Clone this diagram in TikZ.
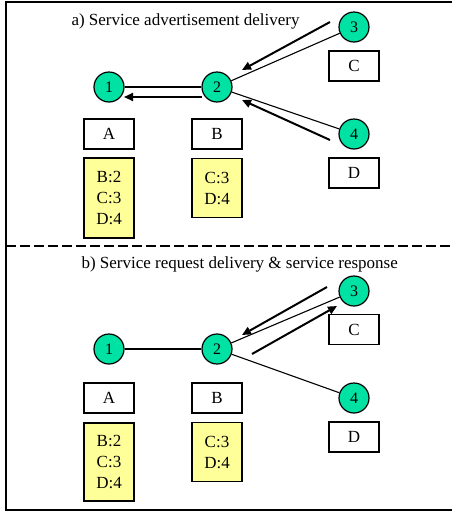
\documentclass[tikz,border=0pt]{standalone}
\usepackage{fontspec}
\setmainfont{Liberation Serif}
\usepackage{xcolor}
\usepackage{tikz}
\usetikzlibrary{positioning, arrows.meta}
\definecolor{mint}{RGB}{0,226,164}
\definecolor{memo}{RGB}{255,255,153}
\tikzset{
	>={Triangle[length=9pt,width=8pt]}, % bold filled arrow heads
	node distance=48pt, % distance between a station and its name box
	station/.style={circle, draw, line width=1.2pt, fill=mint, minimum size=30pt, inner sep=0pt, font=\fontsize{16}{18}\selectfont}, % the numbered circles
	namebox/.style={draw, line width=1.1pt, fill=white, minimum width=50pt, minimum height=30pt, inner sep=0pt}, % the letter boxes
	tablebox/.style={draw, line width=1.1pt, fill=memo, minimum width=50pt, align=center, inner sep=0pt}, % the yellow tables
	link/.style={-, line width=1.1pt}, % plain links
	msg/.style={->, line width=2pt}, % the messages
}

\begin{document}
\begin{tikzpicture}[x=1pt, y=1pt, on grid, font=\fontsize{17}{21}\selectfont]
				\useasboundingbox (0,0) rectangle (451,-512);
				% Frame
				\draw[line width=1.4pt] (6,-2) rectangle (470,-510);
				\draw[line width=1.3pt, dash pattern=on 9.5pt off 4.5pt] (6,-246) -- (451,-246);
				
				% a) Stations
				\node[anchor=base west] (ta) at (68,-25) {a) Service advertisement delivery};
				\node[station] (a1) at (109,-87) {1};
				\node[station] (a2) at (217,-87) {2};
				\node[station] (a3) at (354,-27) {3};
				\node[station] (a4) at (354,-134) {4};
				\node[namebox, below=47pt of a1] (aA) {A};
				\node[namebox, below=47pt of a2] (aB) {B};
				\node[namebox, below=39pt of a3] (aC) {C};
				\node[namebox, below=39pt of a4] (aD) {D};
				\node[tablebox, minimum height=80pt, below=64pt of aA] (atA) {B:2\\C:3\\D:4};
				\node[tablebox, minimum height=59pt, below=54pt of aB] (atB) {C:3\\D:4};
				
				% a) Links and messages
				\path[link]
				(a1) edge (a2)
				(a2) edge (a3)
				(a2) edge (a4);
				\coordinate (a21s) at (202,-97);
				\coordinate (a21e) at (124,-97);
				\coordinate (a32s) at (330,-22);
				\coordinate (a32e) at (242,-70);
				\coordinate (a42s) at (330,-140);
				\coordinate (a42e) at (242,-100);
				\draw[msg] (a21s) -- (a21e);
				\draw[msg] (a32s) -- (a32e);
				\draw[msg] (a42s) -- (a42e);
				
				% b) Stations
				\node[anchor=base west] (tb) at (78,-268) {b) Service request delivery \& service response};
				\node[station] (b1) at (109,-349) {1};
				\node[station] (b2) at (217,-349) {2};
				\node[station] (b3) at (354,-291) {3};
				\node[station] (b4) at (354,-398) {4};
				\node[namebox, below=49pt of b1] (bA) {A};
				\node[namebox, below=49pt of b2] (bB) {B};
				\node[namebox, below=38.5pt of b3] (bC) {C};
				\node[namebox, below=39pt of b4] (bD) {D};
				\node[tablebox, minimum height=78pt, below=64pt of bA] (btA) {B:2\\C:3\\D:4};
				\node[tablebox, minimum height=59pt, below=54pt of bB] (btB) {C:3\\D:4};
				
				% b) Links and messages
				\path[link]
				(b1) edge (b2)
				(b2) edge (b3)
				(b2) edge (b4);
				\coordinate (b32s) at (327,-287);
				\coordinate (b32e) at (242,-335);
				\coordinate (b23s) at (252,-354);
				\coordinate (b23e) at (337,-306);
				\draw[msg] (b32s) -- (b32e);
				\draw[msg] (b23s) -- (b23e);
			\end{tikzpicture}
\end{document}
